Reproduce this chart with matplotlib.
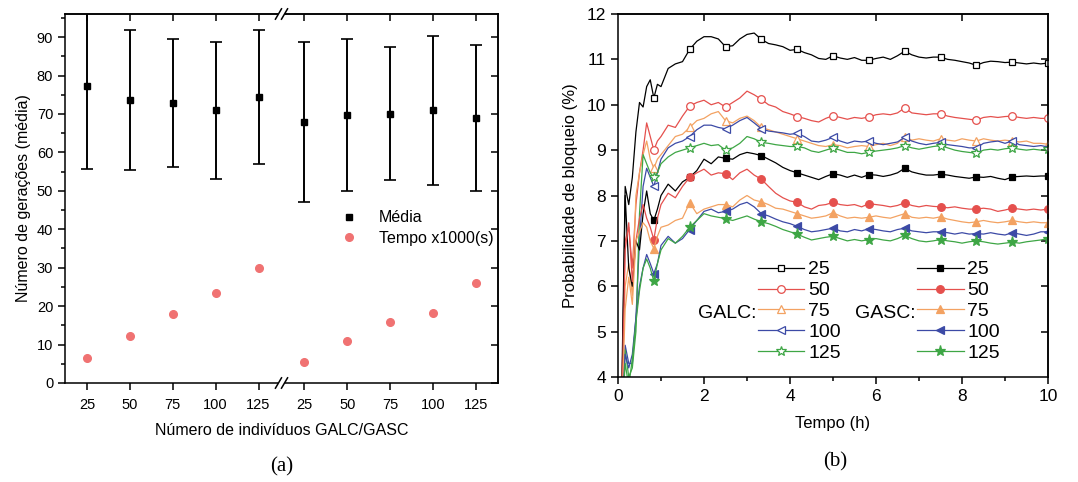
import numpy as np
import matplotlib.pyplot as plt
from matplotlib.lines import Line2D
from matplotlib.patches import Rectangle

plt.rcParams['font.family'] = ['Liberation Sans', 'DejaVu Sans']

# ---- (a) generations / time vs population size ----
sizes = ['25', '50', '75', '100', '125', '25', '50', '75', '100', '125']
geracoes_media = [77.2, 73.6, 72.9, 70.9, 74.4, 67.9, 69.8, 70.1, 71.0, 68.9]
geracoes_desvio = [21.5, 18.2, 16.7, 17.7, 17.5, 20.8, 19.8, 17.4, 19.4, 19.0]
tempo_x1000 = [6.5, 12.2, 18.0, 23.4, 29.8, 5.5, 10.8, 16.0, 18.3, 26.0]

# ---- (b) blocking probability over time ----
# first hour sampled every 5 min, then every 10 min
tempo_h = np.concatenate([np.arange(1, 13) / 12, 1 + np.arange(1, 55) / 6])

galc_25 = [3.5, 8.2, 7.8, 8.4, 9.4, 10.05, 9.95, 10.4, 10.55, 10.15, 10.45, 10.4,
           10.8, 10.9, 10.95, 11.22, 11.4, 11.5, 11.5, 11.45, 11.28, 11.3, 11.45, 11.55,
           11.58, 11.44, 11.35, 11.32, 11.28, 11.2, 11.22, 11.15, 11.1, 11.02, 11.0, 11.08,
           11.03, 11.0, 11.04, 10.98, 10.98, 11.02, 11.05, 11.0, 11.08, 11.18, 11.1, 11.05,
           11.03, 11.05, 11.05, 11.0, 10.98, 10.95, 10.92, 10.87, 10.93, 10.96, 10.95, 10.93,
           10.94, 10.92, 10.9, 10.92, 10.9, 10.92]
galc_50 = [3.5, 7.0, 7.3, 6.4, 7.8, 8.5, 9.0, 9.6, 9.3, 9.0, 9.2, 9.3,
           9.55, 9.5, 9.75, 9.97, 10.05, 10.1, 10.0, 10.05, 9.95, 10.05, 10.15, 10.3,
           10.22, 10.12, 10.0, 9.95, 9.85, 9.8, 9.74, 9.7, 9.65, 9.62, 9.7, 9.76,
           9.72, 9.68, 9.72, 9.7, 9.73, 9.78, 9.8, 9.78, 9.82, 9.93, 9.82, 9.8,
           9.78, 9.8, 9.8, 9.75, 9.72, 9.7, 9.68, 9.66, 9.72, 9.74, 9.72, 9.74,
           9.75, 9.72, 9.7, 9.72, 9.7, 9.7]
galc_75 = [3.5, 6.0, 6.5, 5.8, 8.0, 8.5, 8.9, 9.2, 8.8, 8.6, 8.8, 8.9,
           9.1, 9.3, 9.35, 9.5, 9.65, 9.7, 9.8, 9.85, 9.65, 9.6, 9.7, 9.75,
           9.65, 9.5, 9.45, 9.4, 9.35, 9.3, 9.25, 9.2, 9.15, 9.1, 9.08, 9.12,
           9.1, 9.05, 9.08, 9.1, 9.08, 9.12, 9.15, 9.1, 9.15, 9.3, 9.22, 9.25,
           9.22, 9.2, 9.25, 9.22, 9.2, 9.25, 9.22, 9.2, 9.25, 9.22, 9.2, 9.22,
           9.2, 9.18, 9.2, 9.15, 9.15, 9.13]
galc_100 = [3.0, 4.7, 4.3, 4.3, 5.3, 7.0, 8.2, 8.6, 8.4, 8.2, 8.5, 8.8,
            9.05, 9.15, 9.2, 9.3, 9.45, 9.55, 9.55, 9.5, 9.47, 9.55, 9.65, 9.72,
            9.6, 9.47, 9.42, 9.4, 9.38, 9.35, 9.37, 9.3, 9.2, 9.18, 9.22, 9.28,
            9.2, 9.15, 9.2, 9.18, 9.2, 9.15, 9.12, 9.15, 9.18, 9.28, 9.2, 9.15,
            9.12, 9.15, 9.17, 9.12, 9.1, 9.08, 9.05, 9.05, 9.15, 9.18, 9.2, 9.15,
            9.2, 9.12, 9.1, 9.08, 9.1, 9.07]
galc_125 = [3.0, 4.6, 4.0, 4.2, 5.0, 7.6, 8.9, 8.7, 8.5, 8.4, 8.5, 8.7,
            8.85, 8.95, 9.0, 9.05, 9.1, 9.15, 9.1, 9.12, 9.0, 9.05, 9.15, 9.3,
            9.25, 9.17, 9.15, 9.12, 9.1, 9.08, 9.08, 9.05, 8.98, 8.95, 9.0, 9.05,
            9.0, 8.95, 8.95, 8.92, 8.95, 8.98, 9.0, 9.02, 9.05, 9.1, 9.05, 9.02,
            9.05, 9.08, 9.1, 9.05, 9.0, 8.97, 8.95, 8.93, 9.0, 9.02, 9.0, 9.03,
            9.05, 9.02, 9.0, 9.02, 9.0, 9.02]
gasc_25 = [3.0, 8.0, 6.4, 6.0, 7.0, 6.8, 7.6, 8.1, 7.6, 7.45, 7.7, 8.0,
           8.25, 8.1, 8.3, 8.4, 8.55, 8.8, 8.7, 8.85, 8.82, 8.8, 8.9, 8.95,
           8.92, 8.88, 8.8, 8.72, 8.62, 8.55, 8.5, 8.45, 8.4, 8.35, 8.42, 8.48,
           8.45, 8.4, 8.45, 8.4, 8.46, 8.45, 8.42, 8.45, 8.5, 8.6, 8.52, 8.48,
           8.45, 8.45, 8.47, 8.45, 8.42, 8.4, 8.38, 8.41, 8.4, 8.42, 8.38, 8.35,
           8.41, 8.42, 8.43, 8.42, 8.43, 8.43]
gasc_50 = [3.0, 6.8, 7.4, 6.1, 7.0, 7.5, 7.8, 7.5, 7.3, 7.03, 7.5, 7.8,
           8.05, 7.95, 8.2, 8.4, 8.5, 8.58, 8.45, 8.5, 8.48, 8.35, 8.5, 8.58,
           8.45, 8.36, 8.2, 8.05, 7.95, 7.88, 7.85, 7.75, 7.7, 7.78, 7.8, 7.85,
           7.8, 7.78, 7.8, 7.75, 7.82, 7.8, 7.78, 7.75, 7.78, 7.84, 7.78, 7.75,
           7.78, 7.76, 7.75, 7.73, 7.75, 7.72, 7.7, 7.7, 7.72, 7.7, 7.65, 7.68,
           7.72, 7.7, 7.68, 7.7, 7.68, 7.7]
gasc_75 = [3.0, 5.5, 6.2, 5.6, 7.0, 7.2, 7.4, 7.3, 7.0, 6.83, 7.1, 7.3,
           7.35, 7.45, 7.5, 7.84, 7.6, 7.7, 7.75, 7.8, 7.8, 7.75, 7.9, 8.0,
           7.9, 7.86, 7.8, 7.72, 7.7, 7.65, 7.6, 7.55, 7.5, 7.52, 7.55, 7.62,
           7.55, 7.5, 7.52, 7.5, 7.52, 7.55, 7.52, 7.5, 7.55, 7.6, 7.52, 7.5,
           7.52, 7.5, 7.53, 7.48, 7.45, 7.42, 7.4, 7.42, 7.45, 7.42, 7.4, 7.42,
           7.45, 7.42, 7.4, 7.42, 7.4, 7.4]
gasc_100 = [3.0, 4.5, 4.2, 4.5, 5.3, 6.0, 6.4, 6.7, 6.5, 6.28, 6.5, 6.9,
            7.1, 6.95, 7.05, 7.25, 7.45, 7.65, 7.7, 7.62, 7.65, 7.7, 7.8, 7.85,
            7.75, 7.6, 7.55, 7.48, 7.42, 7.38, 7.32, 7.25, 7.2, 7.22, 7.25, 7.28,
            7.22, 7.2, 7.25, 7.22, 7.27, 7.25, 7.22, 7.2, 7.25, 7.28, 7.22, 7.2,
            7.18, 7.2, 7.2, 7.18, 7.15, 7.18, 7.15, 7.16, 7.15, 7.18, 7.15, 7.13,
            7.18, 7.15, 7.12, 7.15, 7.2, 7.2]
gasc_125 = [3.0, 4.3, 3.8, 4.4, 5.2, 5.9, 6.4, 6.6, 6.4, 6.11, 6.5, 6.8,
            7.05, 6.95, 7.1, 7.3, 7.45, 7.6, 7.55, 7.52, 7.49, 7.45, 7.5, 7.55,
            7.48, 7.42, 7.38, 7.32, 7.25, 7.2, 7.15, 7.08, 7.02, 7.05, 7.08, 7.1,
            7.05, 7.0, 7.03, 7.0, 7.03, 7.05, 7.02, 7.0, 7.05, 7.12, 7.05, 7.0,
            6.98, 7.0, 7.03, 7.0, 6.98, 6.95, 6.98, 7.0, 6.98, 6.95, 6.93, 6.95,
            6.97, 6.95, 6.98, 7.0, 7.02, 7.05]

legend_sizes = ['25', '50', '75', '100', '125']
colors = ['black', '#e5504d', '#f3a262', '#3c4aa6', '#3ea645']
markers = ['s', 'o', '^', '<', '*']

W, H = 1078, 482
fig = plt.figure(figsize=(W / 100, H / 100), dpi=100)

# ================= (a) =================
ax1 = fig.add_axes([65 / W, 1 - 383 / H, 433 / W, 369 / H])
# small extra gap where the axis is broken
pos = np.arange(len(sizes)) + 0.07 * (np.arange(len(sizes)) >= 5)

ax1.errorbar(pos, geracoes_media, yerr=geracoes_desvio, fmt='s', color='black',
             ms=5, capsize=4, elinewidth=1.4, capthick=1.2)
ax1.plot(pos, tempo_x1000, 'o', color='#f07272', ms=5.5, mec='#f07272')

ax1.set_xlim(-0.51, pos[-1] + 0.51)
ax1.set_ylim(0, 96)
ax1.set_xticks(pos)
ax1.set_xticklabels(sizes)
ax1.set_yticks(np.arange(0, 91, 10))
ax1.set_yticks(np.arange(5, 96, 10), minor=True)
ax1.tick_params(which='both', direction='out', labelsize=10.5, width=1.1)
ax1.tick_params(which='major', length=5)
ax1.tick_params(which='minor', length=3)
ax1.tick_params(axis='x', pad=6)
top1 = ax1.secondary_xaxis('top')
top1.set_xticks(pos)
top1.tick_params(direction='in', length=5, width=1.1, labeltop=False)
right1 = ax1.secondary_yaxis('right')
right1.set_yticks(np.arange(0, 91, 10))
right1.tick_params(direction='in', length=5, width=1.1, labelright=False)
for a in (ax1, top1, right1):
    for s in a.spines.values():
        s.set_linewidth(1.1)

ax1.set_xlabel('Número de indivíduos GALC/GASC', fontsize=11.5, labelpad=8)
ax1.set_ylabel('Número de gerações (média)', fontsize=11.5, labelpad=4)

h_media = Line2D([], [], ls='none', marker='s', color='black', ms=5)
h_tempo = Line2D([], [], ls='none', marker='o', color='#f07272', ms=5.5)
ax1.legend([h_media, h_tempo], ['Média', 'Tempo x1000(s)'], loc='upper left',
           bbox_to_anchor=(0.6, 0.49), frameon=False, fontsize=11.5,
           handletextpad=0.9, borderpad=0, labelspacing=0.35)

# axis break marks
xb = (pos[4] + pos[5]) / 2
xb = (xb + 0.51) / (pos[-1] + 1.02)
for yb in (0, 1):
    ax1.add_patch(Rectangle((xb - 0.008, yb - 0.01), 0.016, 0.02, transform=ax1.transAxes,
                            facecolor='white', edgecolor='none', clip_on=False, zorder=5))
    for dx in (-0.007, 0.007):
        ax1.plot([xb + dx - 0.007, xb + dx + 0.007], [yb - 0.014, yb + 0.014],
                 transform=ax1.transAxes, color='black', lw=1.1, clip_on=False, zorder=6)

fig.text(282 / W, 1 - 467 / H, '(a)', family='Liberation Serif', fontsize=15,
         ha='center', va='center')

# ================= (b) =================
ax2 = fig.add_axes([618 / W, 1 - 377 / H, 430 / W, 363 / H])
scaled = tempo_h * 1.2
mark_idx = list(np.where(np.isclose(scaled, np.round(scaled)))[0])

galc_lines, gasc_lines = [], []
for vals, c, m in zip([galc_25, galc_50, galc_75, galc_100, galc_125], colors, markers):
    ms = {'s': 5, '*': 7.5}.get(m, 5.5)
    ln, = ax2.plot(tempo_h, vals, color=c, lw=0.9, marker=m, ms=ms, mfc='white',
                   mec=c, mew=0.9, markevery=mark_idx)
    galc_lines.append(ln)
for vals, c, m in zip([gasc_25, gasc_50, gasc_75, gasc_100, gasc_125], colors, markers):
    ms = {'s': 4.5, '*': 8}.get(m, 5.5)
    ln, = ax2.plot(tempo_h, vals, color=c, lw=0.9, marker=m, ms=ms, mfc=c,
                   mec=c, mew=0.9, markevery=mark_idx)
    gasc_lines.append(ln)

ax2.set_xlim(0, 10)
ax2.set_ylim(4, 12)
ax2.set_xticks(np.arange(0, 11, 2))
ax2.set_xticks(np.arange(1, 10, 2), minor=True)
ax2.set_yticks(np.arange(4, 13, 1))
ax2.tick_params(which='both', direction='out', labelsize=12.5, width=1.1)
ax2.tick_params(which='major', length=5)
ax2.tick_params(which='minor', length=3)
top2 = ax2.secondary_xaxis('top')
top2.set_xticks(np.arange(2, 9, 2))
top2.tick_params(direction='in', length=5, width=1.1, labeltop=False)
right2 = ax2.secondary_yaxis('right')
right2.set_yticks(np.arange(5, 12, 1))
right2.tick_params(direction='in', length=5, width=1.1, labelright=False)
for a in (ax2, top2, right2):
    for s in a.spines.values():
        s.set_linewidth(1.1)

ax2.set_xlabel('Tempo (h)', fontsize=12, labelpad=9)
ax2.set_ylabel('Probabilidade de bloqueio (%)', fontsize=12, labelpad=6)

leg_kw = dict(loc='upper left', frameon=False, fontsize=14, handlelength=2.4,
              handletextpad=0.2, labelspacing=0.17, borderpad=0, borderaxespad=0)
leg1 = ax2.legend(galc_lines, legend_sizes, bbox_to_anchor=(0.325, 0.32), **leg_kw)
ax2.add_artist(leg1)
ax2.legend(gasc_lines, legend_sizes, bbox_to_anchor=(0.695, 0.32), **leg_kw)
ax2.text(0.322, 0.176, 'GALC:', transform=ax2.transAxes, fontsize=14,
         ha='right', va='center')
ax2.text(0.692, 0.176, 'GASC:', transform=ax2.transAxes, fontsize=14,
         ha='right', va='center')

fig.text(835 / W, 1 - 462 / H, '(b)', family='Liberation Serif', fontsize=15,
         ha='center', va='center')

fig.savefig('out.png', dpi=100)
